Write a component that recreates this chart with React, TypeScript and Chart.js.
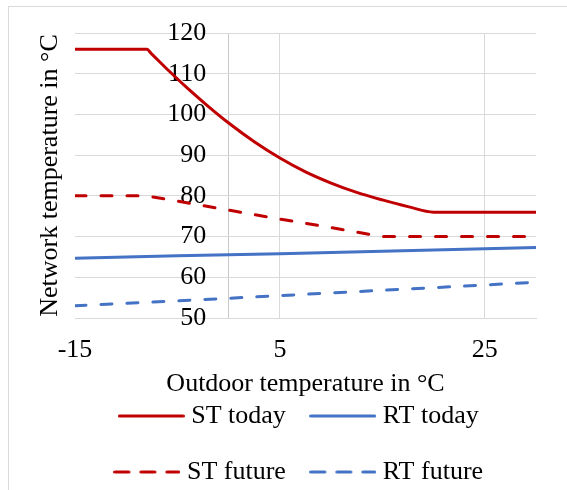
import React, { useEffect, useRef } from 'react';
import { Chart, registerables } from 'chart.js';

Chart.register(...registerables);

// ---- data ----
const stTodayX = [-15, -8, -7.5, -6, -4, -2, 0, 2.5, 5, 7.5, 10, 12.5, 15, 17.5, 20, 30];
const stTodayY = [116, 116, 114.8, 111.1, 106.4, 102.0, 97.9, 93.3, 89.3, 85.9, 83.15, 80.85, 79.0, 77.35, 76.0, 76.0];
const stFutureX = [-15, -8, -5, 0, 5, 10, 15, 30];
const stFutureY = [80, 80, 78.7, 76.5, 74.3, 72.2, 70, 70];
const rtTodayX = [-15, -5, 5, 15, 25, 30];
const rtTodayY = [64.7, 65.3, 65.8, 66.4, 67.0, 67.3];
const rtFutureX = [-15, -5, 5, 15, 25, 30];
const rtFutureY = [53.0, 54.2, 55.5, 56.8, 58.1, 58.8];

const seriesLabels = ['ST today', 'RT today', 'ST future', 'RT future'];
const xTickValues = [-15, 5, 25];
const yAxisCrossX = 0; // vertical axis crosses the x axis here
const yLabelAnchorX = -2.2; // labels sit just left of the crossing line
const xMin = -15;
const xMax = 30;
const yMin = 50;
const yMax = 120;
const yStep = 10;
const xTitle = 'Outdoor temperature in °C';
const yTitle = 'Network temperature in °C';

const RED = '#C00000';
const BLUE = '#4472C4';
const GRID = '#d9d9d9';
const AXIS = '#c8c8c8';
const FONT = 'Liberation Serif';

const toPoints = (xs: number[], ys: number[]) => xs.map((x, i) => ({ x, y: ys[i] }));

function makeLegendLine(color: string, dashed: boolean) {
  const c = document.createElement('canvas');
  c.width = 67;
  c.height = 6;
  const g = c.getContext('2d')!;
  g.strokeStyle = color;
  g.lineWidth = 3;
  g.lineCap = 'round';
  if (dashed) g.setLineDash([14, 12]);
  g.beginPath();
  g.moveTo(1.5, 3);
  g.lineTo(65.5, 3);
  g.stroke();
  return c;
}

const framePlugin = {
  id: 'frame',
  beforeDraw(chart: any) {
    const { ctx, width, height } = chart;
    ctx.save();
    ctx.fillStyle = '#ffffff';
    ctx.fillRect(0, 0, width, height);
    ctx.strokeStyle = GRID;
    ctx.lineWidth = 1;
    ctx.strokeRect(8.5, 6.5, width + 20, height + 20);
    ctx.restore();
  },
};

export default function App() {
  const ref = useRef<HTMLCanvasElement>(null);

  useEffect(() => {
    document.body.style.margin = '0';
    const legendImgs = [
      makeLegendLine(RED, false),
      makeLegendLine(BLUE, false),
      makeLegendLine(RED, true),
      makeLegendLine(BLUE, true),
    ];
    const font = { family: FONT, size: 26, lineHeight: 1 };
    const common = { borderWidth: 3, pointRadius: 0, pointHoverRadius: 0, yAxisID: 'y' };

    const chart = new Chart(ref.current!, {
      type: 'line',
      data: {
        datasets: [
          {
            ...common,
            label: seriesLabels[0],
            data: toPoints(stTodayX, stTodayY),
            borderColor: RED,
            backgroundColor: RED,
            cubicInterpolationMode: 'monotone',
          },
          {
            ...common,
            label: seriesLabels[1],
            data: toPoints(rtTodayX, rtTodayY),
            borderColor: BLUE,
            backgroundColor: BLUE,
          },
          {
            ...common,
            label: seriesLabels[2],
            data: toPoints(stFutureX, stFutureY),
            borderColor: RED,
            backgroundColor: RED,
            borderDash: [11, 15],
            borderCapStyle: 'round',
          },
          {
            ...common,
            label: seriesLabels[3],
            data: toPoints(rtFutureX, rtFutureY),
            borderColor: BLUE,
            backgroundColor: BLUE,
            borderDash: [11, 15],
            borderCapStyle: 'round',
          },
        ],
      },
      options: {
        responsive: false,
        animation: false,
        layout: { padding: { left: 36, right: 0, top: 33, bottom: -5 } },
        plugins: {
          legend: {
            position: 'bottom',
            labels: {
              usePointStyle: true,
              pointStyleWidth: 54,
              padding: 30,
              color: '#000',
              font,
              generateLabels: (c: any) => {
                const items = (Chart as any).defaults.plugins.legend.labels.generateLabels(c);
                items.forEach((it: any) => {
                  it.pointStyle = legendImgs[it.datasetIndex];
                });
                return items;
              },
            },
          },
          tooltip: { enabled: false },
        },
        scales: {
          x: {
            type: 'linear',
            position: 'bottom',
            min: xMin,
            max: xMax,
            afterBuildTicks: (s: any) => {
              s.ticks = [xTickValues[0], yAxisCrossX, ...xTickValues.slice(1)].map((v) => ({ value: v }));
            },
            grid: {
              color: (c: any) => {
                if (!c.tick) return GRID;
                if (c.tick.value === xMin) return 'rgba(0,0,0,0)';
                if (c.tick.value === yAxisCrossX) return AXIS;
                return GRID;
              },
              drawTicks: false,
            },
            border: { color: GRID },
            ticks: {
              padding: 19,
              color: '#000',
              font,
              callback: (v: any) => (xTickValues.includes(Number(v)) ? String(v) : ''),
            },
            title: {
              display: true,
              text: xTitle,
              color: '#000',
              font,
              padding: { top: -11, bottom: -24 },
            },
          },
          y: {
            type: 'linear',
            position: { x: yLabelAnchorX } as any,
            min: yMin,
            max: yMax,
            ticks: { stepSize: yStep, color: '#000', font },
            grid: { color: GRID, drawTicks: false },
            border: { display: false },
          },
          yTitle: {
            type: 'linear',
            position: 'left',
            display: true,
            grid: { display: false, drawTicks: false },
            border: { display: false },
            ticks: { display: false },
            title: {
              display: true,
              text: yTitle,
              color: '#000',
              font,
              padding: { top: 1, bottom: 0 },
            },
            afterFit: (s: any) => {
              s.width = 39;
            },
          },
          yRight: {
            type: 'linear',
            position: 'right',
            display: true,
            grid: { display: false, drawTicks: false },
            border: { display: false },
            ticks: { display: false },
            afterFit: (s: any) => {
              s.width = 31;
            },
          },
        } as any,
      },
      plugins: [framePlugin],
    } as any);

    return () => chart.destroy();
  }, []);

  return (
    <div style={{ width: 567, height: 490 }}>
      <canvas ref={ref} width={567} height={490} />
    </div>
  );
}
